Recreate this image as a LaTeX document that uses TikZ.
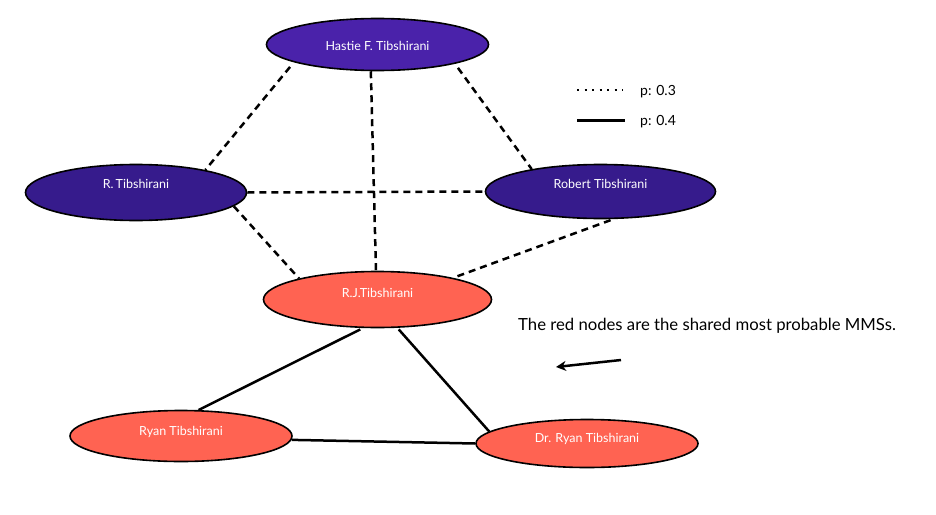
\documentclass[tikz,border=0pt]{standalone}
\usepackage{fontspec}
\setmainfont{Lato}
\usetikzlibrary{shapes.geometric,arrows.meta}
\definecolor{hpurple}{HTML}{4A22AA}
\definecolor{dpurple}{HTML}{361B8C}
\definecolor{rednode}{HTML}{FF6352}
\begin{document}
\begin{tikzpicture}[x=1pt,y=-1pt,
  ell/.style={ellipse, draw=black, line width=1.6pt, inner sep=0pt, text=white,
    font=\fontsize{12.5}{14}\selectfont, text height=13pt},
  dashedge/.style={line width=2.5pt, dash pattern=on 7pt off 5pt},
  solidedge/.style={line width=2.5pt},
  plain/.style={anchor=base west, inner sep=0pt, text=black}
]
\fill[white] (0,0) rectangle (936,514);
\useasboundingbox (0,0) rectangle (936,514);

\node[ell, fill=hpurple, minimum width=222pt, minimum height=52pt, text depth=0.6pt] (H) at (377.5,44.5) {Hastie F. Tibshirani};
\node[ell, fill=dpurple, minimum width=221pt, minimum height=56pt, text depth=20.6pt] (RT) at (136,192.5) {R.\,Tibshirani};
\node[ell, fill=dpurple, minimum width=230pt, minimum height=54pt, text depth=18.6pt] (RB) at (600.5,191.5) {Robert Tibshirani};
\node[ell, fill=rednode, minimum width=228pt, minimum height=56pt, text depth=16.6pt] (RJ) at (377.5,299.5) {R.J.Tibshirani};
\node[ell, fill=rednode, minimum width=222pt, minimum height=51pt, text depth=14.6pt] (RY) at (181,436) {Ryan Tibshirani};
\node[ell, fill=rednode, minimum width=222pt, minimum height=48pt, text depth=15.2pt] (DR) at (587,443.5) {Dr. Ryan Tibshirani};

\draw[dashedge, shorten <=6pt] (H.192) -- (RT.18);
\draw[dashedge] (H.256) -- (RJ.93);
\draw[dashedge, shorten <=5pt] (H.346) -- (RB.162);
\draw[dashedge] (RT.0) -- (RB.180);
\draw[dashedge] (RT.-8.5) -- (RJ.165);
\draw[dashedge, shorten <=3pt] (RB.-65) -- (RJ.16);
\draw[solidedge, shorten <=3pt] (RJ.243) -- (RY.56);
\draw[solidedge, shorten <=2pt] (RJ.-55) -- (DR.173);
\draw[solidedge] (RY.-2.6) -- (DR.180);

\coordinate (l1a) at (577,90);
\coordinate (l1b) at (623,90);
\coordinate (l2a) at (577,120);
\coordinate (l2b) at (625,120);
\draw[line width=2.2pt, dash pattern=on 2.2pt off 5.3pt] (l1a) -- (l1b);
\draw[line width=3pt] (l2a) -- (l2b);
\node[plain, font=\fontsize{14}{16}\selectfont] (p3) at (640,95.5) {p: 0.3};
\node[plain, font=\fontsize{14}{16}\selectfont] (p4) at (640,125) {p: 0.4};

\node[plain, font=\fontsize{16.7}{19}\selectfont] (note) at (518,330) {The red nodes are the shared most probable MMSs.};

\coordinate (a1) at (621,360);
\coordinate (a2) at (556,367);
\draw[line width=2.5pt, -{Stealth[length=10pt,width=10pt]}] (a1) -- (a2);
\end{tikzpicture}
\end{document}
